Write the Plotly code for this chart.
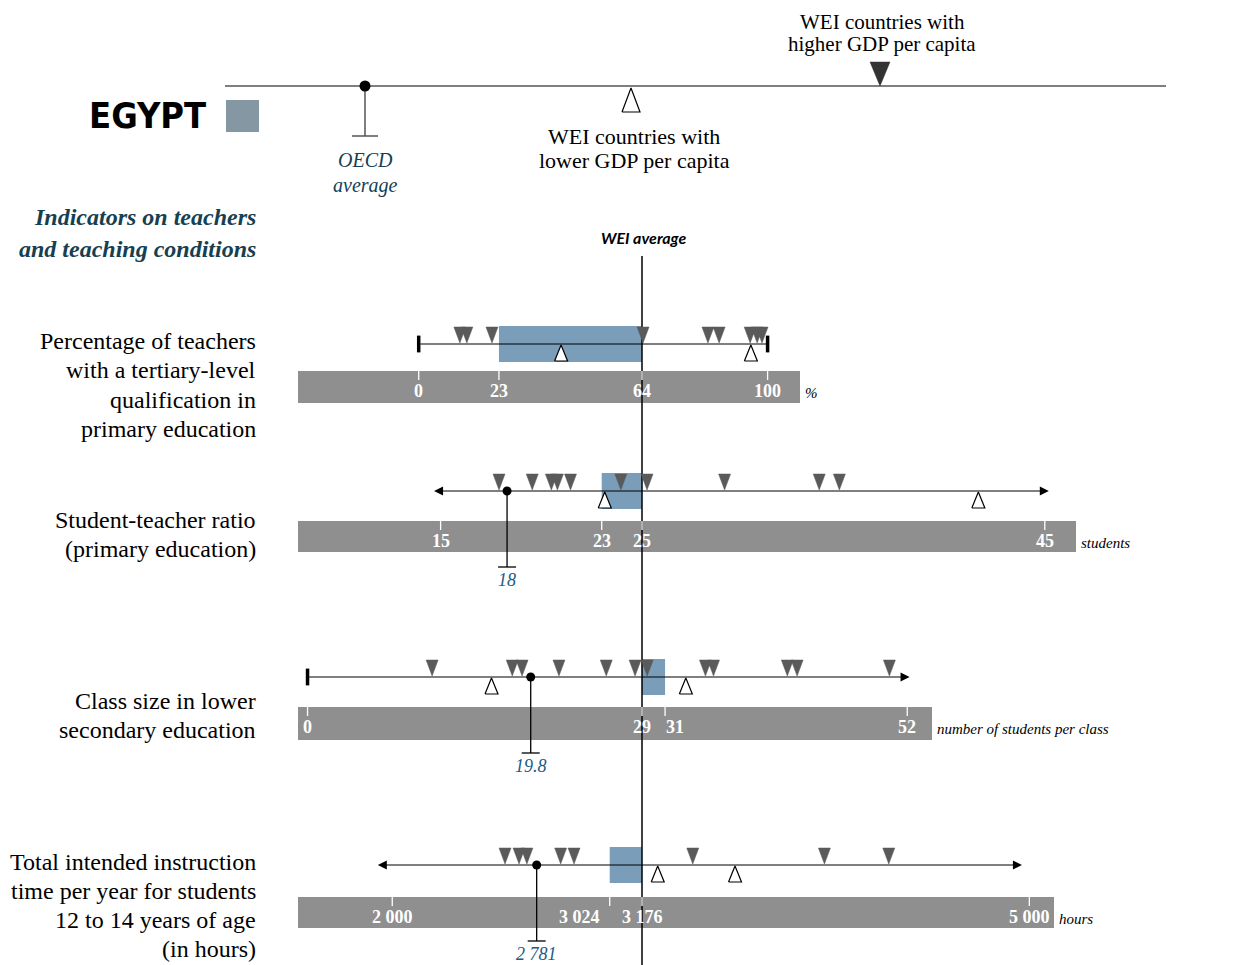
import plotly.graph_objects as go

W, H = 1235, 965
OFF = 8  # the page body margin shifts the figure by this many pixels
WEI_PX = 642  # x pixel where the WEI average line sits

SERIF = "Liberation Serif"
SANS_NARROW = "DejaVu Sans Condensed, Liberation Sans Narrow, DejaVu Sans"

# ---------------- data ----------------
row_labels = [
    ["Percentage of teachers", "with a tertiary-level", "qualification in", "primary education"],
    ["Student-teacher ratio", "(primary education)"],
    ["Class size in lower", "secondary education"],
    ["Total intended instruction", "time per year for students", "12 to 14 years of age", "(in hours)"],
]
units = ["%", "students", "number of students per class", "hours"]

egypt = [23, 23, 31, 3024]
wei_avg = [64, 25, 29, 3176]

tick_vals = [[0, 23, 64, 100], [15, 23, 25, 45], [0, 29, 31, 52], [2000, 3024, 3176, 5000]]
tick_text = [["0", "23", "64", "100"], ["15", "23", "25", "45"],
             ["0", "29", "31", "52"], ["2 000", "3 024", "3 176", "5 000"]]

# WEI countries with higher GDP per capita (dark triangles)
higher_gdp = [
    [11.8, 13.8, 21.0, 64.3, 82.9, 86.1, 95.0, 97.0, 98.4],
    [17.9, 19.55, 20.5, 20.8, 21.45, 23.95, 25.25, 29.1, 33.8, 34.8],
    [10.8, 17.75, 18.6, 21.8, 25.9, 28.4, 29.45, 34.5, 35.2, 41.6, 42.45, 50.45],
    [2531, 2597, 2634, 2793, 2856, 3415, 4035, 4338],
]
# WEI countries with lower GDP per capita (open triangles)
lower_gdp = [
    [40.8, 95.2],
    [23.15, 41.7],
    [15.95, 32.8],
    [3250, 3614],
]
# OECD average
oecd_val = [None, 18.3, 19.35, 2680]
oecd_text = ["", "18", "19.8", "2 781"]

# extent of each row's scale line
line_start = [0, 14.6, 0, 1925]
line_end = [100, 45.2, 52.2, 4965]
start_kind = ["cap", "arrow", "cap", "arrow"]
end_kind = ["cap", "arrow", "arrow", "arrow"]

# ---------------- layout geometry (pixels) ----------------
px_per_unit = [3.489, 20.14, 11.533, 0.21236]
row_y = [344, 491, 677, 865]
band_top = [371, 521, 707, 897]
band_bot = [403, 552, 740, 928]
band_right = [800, 1076, 932, 1054]
label_y = [[341, 370, 400, 429], [520, 549], [701, 730], [862, 891, 920, 949]]

DARK = "#5a5a5a"
BLUE = "#7a9dba"
BAND = "#8f8f8f"
TEAL = "#173f52"
OECD_BLUE = "#1d5a86"

fig = go.Figure()
shapes = []
annots = []


def tri(xs, y_base, y_tip, half):
    px, py = [], []
    for v in xs:
        px += [v - half, v + half, v, v - half, None]
        py += [y_base, y_base, y_tip, y_base, None]
    return px, py


# WEI average vertical line (pixel axis)
fig.add_trace(go.Scatter(x=[WEI_PX, WEI_PX], y=[256, H + OFF], mode="lines",
                         line=dict(color="black", width=1.5), hoverinfo="skip"))

# ---------------- legend block ----------------
fig.add_trace(go.Scatter(x=[225, 1166], y=[86, 86], mode="lines",
                         line=dict(color="#555555", width=1.5), hoverinfo="skip"))
fig.add_trace(go.Scatter(x=[365, 365, None, 352, 378], y=[86, 136, None, 136, 136], mode="lines",
                         line=dict(color="#555555", width=1.5), hoverinfo="skip"))
fig.add_trace(go.Scatter(x=[365], y=[86], mode="markers",
                         marker=dict(color="black", size=11), hoverinfo="skip"))
lx, ly = tri([880], 62, 86, 10)
fig.add_trace(go.Scatter(x=lx, y=ly, mode="lines", fill="toself", fillcolor="#333333",
                         line=dict(color="#333333", width=0.5), hoverinfo="skip"))
lx, ly = tri([631], 112, 88, 9)
fig.add_trace(go.Scatter(x=lx, y=ly, mode="lines", fill="toself", fillcolor="white",
                         line=dict(color="black", width=1.2), hoverinfo="skip"))

shapes.append(dict(type="rect", xref="x", yref="y", x0=226, x1=259, y0=100, y1=132,
                   fillcolor="#8497a3", line=dict(width=0), layer="below"))

annots += [
    dict(x=208, y=115, text="<b>EGYPT</b>", xanchor="right",
         font=dict(family=SANS_NARROW, size=36, color="black")),
    dict(x=882, y=22, text="WEI countries with", font=dict(family=SERIF, size=21, color="black")),
    dict(x=882, y=44, text="higher GDP per capita", font=dict(family=SERIF, size=21, color="black")),
    dict(x=634, y=136, text="WEI countries with", font=dict(family=SERIF, size=22, color="black")),
    dict(x=634, y=160, text="lower GDP per capita", font=dict(family=SERIF, size=22, color="black")),
    dict(x=365, y=160, text="<i>OECD</i>", font=dict(family=SERIF, size=20, color=TEAL)),
    dict(x=365, y=185, text="<i>average</i>", font=dict(family=SERIF, size=20, color=TEAL)),
    dict(x=258, y=217, text="<b><i>Indicators on teachers</i></b>", xanchor="right",
         font=dict(family=SERIF, size=24, color=TEAL)),
    dict(x=258, y=249, text="<b><i>and teaching conditions</i></b>", xanchor="right",
         font=dict(family=SERIF, size=24, color=TEAL)),
    dict(x=643, y=237, text="<b><i>WEI average</i></b>",
         font=dict(family="Lato", size=16, color="black")),
]

# ---------------- indicator rows ----------------
axis_layout = {}
for k in range(4):
    ax = "x%d" % (k + 2)
    s = px_per_unit[k]
    lo = wei_avg[k] - (WEI_PX - OFF) / s
    hi = lo + W / s
    axis_layout["xaxis%d" % (k + 2)] = dict(range=[lo, hi], overlaying="x", anchor="y",
                                            visible=False, fixedrange=True)
    y0 = row_y[k]

    # row label
    for line, yy in zip(row_labels[k], label_y[k]):
        annots.append(dict(x=258, y=yy, text=line, xanchor="right",
                           font=dict(family=SERIF, size=24, color="black")))

    # grey scale band + unit
    shapes.append(dict(type="rect", xref="x", yref="y", x0=298, x1=band_right[k],
                       y0=band_top[k], y1=band_bot[k], fillcolor=BAND,
                       line=dict(width=0), layer="below"))
    annots.append(dict(x=band_right[k] + 3, y=band_top[k] + 22, text="<i>%s</i>" % units[k],
                       xanchor="left", font=dict(family=SERIF, size=15, color="black")))

    # Egypt box between Egypt value and WEI average
    shapes.append(dict(type="rect", xref=ax, yref="y", x0=egypt[k], x1=wei_avg[k],
                       y0=y0 - 18, y1=y0 + 18, fillcolor=BLUE, line=dict(width=0),
                       layer="below"))

    # tick marks and labels
    tx, ty = [], []
    for v in tick_vals[k]:
        tx += [v, v, None]
        ty += [band_top[k], band_top[k] + 9, None]
    fig.add_trace(go.Scatter(x=tx, y=ty, xaxis=ax, mode="lines",
                             line=dict(color="white", width=1.3), hoverinfo="skip"))
    e_px = WEI_PX + (egypt[k] - wei_avg[k]) * s
    for v, t in zip(tick_vals[k], tick_text[k]):
        shift = 0
        if v == egypt[k] and v != wei_avg[k]:
            need = (len(tick_text[k][tick_vals[k].index(wei_avg[k])]) + len(t)) * 4.8 + 14
            gap = abs(WEI_PX - e_px)
            if gap < need:
                shift = -(need - gap) if e_px < WEI_PX else (need - gap)
        annots.append(dict(x=v, xref=ax, y=band_top[k] + 20, text="<b>%s</b>" % t, xshift=shift,
                           font=dict(family=SERIF, size=18, color="white")))

    # scale line with caps / arrows
    side = {("cap", "cap"): "none", ("arrow", "arrow"): "end+start",
            ("cap", "arrow"): "end"}[(start_kind[k], end_kind[k])]
    annots.append(dict(x=line_end[k], y=y0, xref=ax, yref="y", ax=line_start[k], ay=y0,
                       axref=ax, ayref="y", text="", showarrow=True, arrowside=side,
                       arrowhead=2, arrowsize=1.5, arrowwidth=1.2, arrowcolor="black"))
    caps = [v for v, kind in ((line_start[k], start_kind[k]), (line_end[k], end_kind[k]))
            if kind == "cap"]
    if caps:
        fig.add_trace(go.Scatter(x=caps, y=[y0] * len(caps), xaxis=ax, mode="markers",
                                 marker=dict(symbol="line-ns", size=12,
                                             line=dict(color="black", width=3.5)),
                                 hoverinfo="skip"))

    # higher GDP countries
    dx, dy = tri(higher_gdp[k], y0 - 17, y0 - 1, 6 / s)
    fig.add_trace(go.Scatter(x=dx, y=dy, xaxis=ax, mode="lines", fill="toself",
                             fillcolor=DARK, line=dict(color=DARK, width=0.5),
                             hoverinfo="skip"))
    # lower GDP countries
    ox, oy = tri(lower_gdp[k], y0 + 17, y0 + 1, 6.5 / s)
    fig.add_trace(go.Scatter(x=ox, y=oy, xaxis=ax, mode="lines", fill="toself",
                             fillcolor="white", line=dict(color="black", width=1.2),
                             hoverinfo="skip"))

    # OECD average
    if oecd_val[k] is not None:
        v = oecd_val[k]
        c = 9 / s
        fig.add_trace(go.Scatter(x=[v, v, None, v - c, v + c],
                                 y=[y0, y0 + 76, None, y0 + 76, y0 + 76], xaxis=ax,
                                 mode="lines", line=dict(color="black", width=1.3),
                                 hoverinfo="skip"))
        fig.add_trace(go.Scatter(x=[v], y=[y0], xaxis=ax, mode="markers",
                                 marker=dict(color="black", size=9), hoverinfo="skip"))
        annots.append(dict(x=v, xref=ax, y=y0 + 89, text="<i>%s</i>" % oecd_text[k],
                           font=dict(family=SERIF, size=18, color=OECD_BLUE)))

for a in annots:
    a.setdefault("xref", "x")
    a.setdefault("yref", "y")
    a.setdefault("showarrow", False)
    a.setdefault("yanchor", "middle")

fig.update_layout(
    width=W, height=H,
    margin=dict(l=0, r=0, t=0, b=0),
    paper_bgcolor="white", plot_bgcolor="white",
    showlegend=False,
    xaxis=dict(range=[OFF, W + OFF], visible=False, fixedrange=True),
    yaxis=dict(range=[H + OFF, OFF], visible=False, fixedrange=True),
    shapes=shapes,
    annotations=annots,
    **axis_layout,
)

fig.write_html("out.html")
